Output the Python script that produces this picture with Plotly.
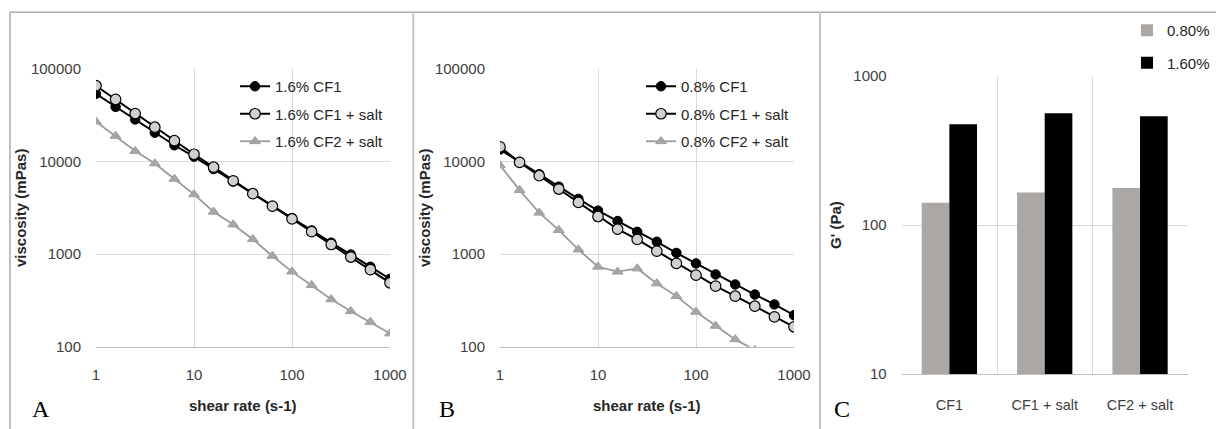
import plotly.graph_objects as go

W, H = 1216, 429

# ---------------- data ----------------
shear_rate = [1, 1.585, 2.512, 3.981, 6.31, 10, 15.85, 25.12, 39.81, 63.1,
              100, 158.5, 251.2, 398.1, 631, 1000]

a_cf1 = [54000, 39000, 28500, 20500, 15000, 11300, 8300, 6100, 4500, 3300,
         2450, 1800, 1330, 990, 730, 540]
a_cf1_salt = [66000, 47000, 33000, 23500, 16800, 12000, 8700, 6200, 4500, 3300,
              2400, 1750, 1270, 930, 680, 490]
a_cf2_salt = [27000, 18900, 13000, 9550, 6500, 4420, 2870, 2090, 1450, 956,
              647, 462, 325, 242, 185, 139]

b_cf1 = [13500, 9900, 7300, 5350, 3950, 2950, 2280, 1740, 1360, 1030,
         794, 603, 470, 366, 286, 219]
b_cf1_salt = [14400, 9800, 7030, 5050, 3620, 2550, 1860, 1440, 1077, 794,
              593, 451, 351, 274, 210, 164]
b_cf2_salt = [9100, 4920, 2800, 1820, 1120, 730, 646, 700, 482, 352,
              238, 168, 120, 92, 68, 50]

names_a = ["1.6% CF1", "1.6% CF1 + salt", "1.6% CF2 + salt"]
names_b = ["0.8% CF1", "0.8% CF1 + salt", "0.8% CF2 + salt"]

c_categories = ["CF1", "CF1 + salt", "CF2 + salt"]
c_080 = [141, 165, 177]
c_160 = [474, 563, 537]
c_names = ["0.80%", "1.60%"]

visc_ticks = [100, 1000, 10000, 100000]
visc_ticktext = ["100", "1000", "10000", "100000"]
rate_ticks = [1, 10, 100, 1000]
rate_ticktext = ["1", "10", "100", "1000"]
g_ticks = [10, 100, 1000]
g_ticktext = ["10", "100", "1000"]

# ---------------- helpers ----------------
def px_x(p):
    return p / W

def px_y(p):
    return 1 - p / H

FONT = "Liberation Sans, Arial, sans-serif"
TICKC = "#404040"
GRID = "#d9d9d9"

fig = go.Figure()

styles = [
    dict(line=dict(color="black", width=2),
         marker=dict(symbol="circle", size=9.5, color="black",
                     line=dict(color="black", width=1))),
    dict(line=dict(color="black", width=2),
         marker=dict(symbol="circle", size=10.5, color="#d0d0d0",
                     line=dict(color="black", width=1.2))),
    dict(line=dict(color="#9a9a9a", width=1.8),
         marker=dict(symbol="triangle-up", size=9.5, color="#a6a6a6",
                     line=dict(color="#a0a0a0", width=1))),
]

for i, (ys, nm) in enumerate(zip([a_cf1, a_cf1_salt, a_cf2_salt], names_a)):
    fig.add_trace(go.Scatter(x=shear_rate, y=ys, name=nm, mode="lines+markers",
                             xaxis="x", yaxis="y", legend="legend",
                             legendgroup="a%d" % i, **styles[i]))
for i, (ys, nm) in enumerate(zip([b_cf1, b_cf1_salt, b_cf2_salt], names_b)):
    fig.add_trace(go.Scatter(x=shear_rate, y=ys, name=nm, mode="lines+markers",
                             xaxis="x2", yaxis="y2", legend="legend2",
                             legendgroup="b%d" % i, **styles[i]))

fig.add_trace(go.Bar(x=c_categories, y=c_080, name=c_names[0],
                     marker=dict(color="#aba7a5", line=dict(width=0)),
                     xaxis="x3", yaxis="y3", legend="legend3", legendgroup="c0"))
fig.add_trace(go.Bar(x=c_categories, y=c_160, name=c_names[1],
                     marker=dict(color="black", line=dict(width=0)),
                     xaxis="x3", yaxis="y3", legend="legend3", legendgroup="c1"))

ydom_v = [px_y(346.7), px_y(69)]
ydom_c = [px_y(374), px_y(76)]

common_x = dict(type="log", range=[0, 3], tickvals=rate_ticks, ticktext=rate_ticktext,
                showgrid=True, gridcolor=GRID, gridwidth=1, zeroline=False,
                showline=True, linecolor="#bfbfbf", linewidth=1,
                ticks="", ticklabelstandoff=14, automargin=False,
                tickfont=dict(family=FONT, size=15, color=TICKC))
common_y = dict(type="log", range=[2, 5], tickvals=visc_ticks, ticktext=visc_ticktext,
                showgrid=True, gridcolor=GRID, gridwidth=1, zeroline=False,
                showline=False, ticks="", ticklabelstandoff=14, automargin=False,
                tickfont=dict(family=FONT, size=15, color=TICKC))

leg_common = dict(font=dict(family=FONT, size=15, color="#262626"),
                  bgcolor="rgba(0,0,0,0)", borderwidth=0,
                  traceorder="grouped", tracegroupgap=5,
                  xanchor="left", yanchor="top", itemwidth=30)

fig.update_layout(
    width=W, height=H,
    margin=dict(l=0, r=0, t=0, b=0, pad=0, autoexpand=False),
    paper_bgcolor="white", plot_bgcolor="white",
    barmode="group", bargap=0.42, bargroupgap=0,
    xaxis=dict(domain=[px_x(96), px_x(390)], anchor="y", **common_x),
    yaxis=dict(domain=ydom_v, anchor="x", **common_y),
    xaxis2=dict(domain=[px_x(500), px_x(794)], anchor="y2", **common_x),
    yaxis2=dict(domain=ydom_v, anchor="x2", **common_y),
    xaxis3=dict(domain=[px_x(901.7), px_x(1187.7)], anchor="y3", type="category",
                tickson="boundaries", showgrid=True, gridcolor=GRID, gridwidth=1,
                showline=True, linecolor="#bfbfbf", linewidth=1, ticks="",
                ticklabelstandoff=18, automargin=False,
                tickfont=dict(family=FONT, size=14.5, color=TICKC)),
    yaxis3=dict(domain=ydom_c, anchor="x3", type="log", range=[1, 3],
                tickvals=g_ticks, ticktext=g_ticktext, automargin=False,
                showgrid=True, gridcolor=GRID, gridwidth=1, zeroline=False,
                showline=False, ticks="", ticklabelstandoff=14,
                tickfont=dict(family=FONT, size=15, color=TICKC)),
    legend=dict(x=px_x(235), y=px_y(70), **leg_common),
    legend2=dict(x=px_x(641), y=px_y(70), **leg_common),
    legend3=dict(x=px_x(1127), y=px_y(14),
                 **{**leg_common, "tracegroupgap": 10}),
    showlegend=True,
)

# frame lines
frame = "#ababab"
shapes = [
    dict(type="line", xref="paper", yref="paper", x0=px_x(10), x1=1,
         y0=px_y(12.3), y1=px_y(12.3), line=dict(color=frame, width=1.5)),
    dict(type="line", xref="paper", yref="paper", x0=px_x(10), x1=px_x(10),
         y0=px_y(12.3), y1=0, line=dict(color=frame, width=1.5)),
    dict(type="line", xref="paper", yref="paper", x0=px_x(413.3), x1=px_x(413.3),
         y0=px_y(12.3), y1=0, line=dict(color="#c4c4c4", width=2)),
    dict(type="line", xref="paper", yref="paper", x0=px_x(820), x1=px_x(820),
         y0=px_y(12.3), y1=0, line=dict(color="#c4c4c4", width=2)),
]
fig.update_layout(shapes=shapes)

ann = []
# y axis titles
for xc in [20, 424]:
    ann.append(dict(text="<b>viscosity (mPas)</b>", xref="paper", yref="paper",
                    x=px_x(xc), y=px_y(208), xanchor="center", yanchor="middle",
                    textangle=-90, showarrow=False,
                    font=dict(family=FONT, size=15, color="#262626")))
ann.append(dict(text="<b>G' (Pa)</b>", xref="paper", yref="paper",
                x=px_x(835), y=px_y(225), xanchor="center", yanchor="middle",
                textangle=-90, showarrow=False,
                font=dict(family=FONT, size=15, color="#262626")))
# x axis titles
for xc in [243, 647]:
    ann.append(dict(text="<b>shear rate (s-1)</b>", xref="paper", yref="paper",
                    x=px_x(xc), y=px_y(405), xanchor="center", yanchor="middle",
                    showarrow=False,
                    font=dict(family=FONT, size=15, color="#262626")))
# panel letters
for letter, xl in [("A", 30), ("B", 437), ("C", 832)]:
    ann.append(dict(text=letter, xref="paper", yref="paper",
                    x=px_x(xl), y=px_y(409), xanchor="left", yanchor="middle",
                    showarrow=False,
                    font=dict(family="Liberation Serif, Times New Roman, serif",
                              size=24, color="black")))
fig.update_layout(annotations=ann)

fig.write_html("out.html",
               config={"displayModeBar": False},
               post_script="document.body.style.margin='0';"
                           "document.body.style.overflow='hidden';")
